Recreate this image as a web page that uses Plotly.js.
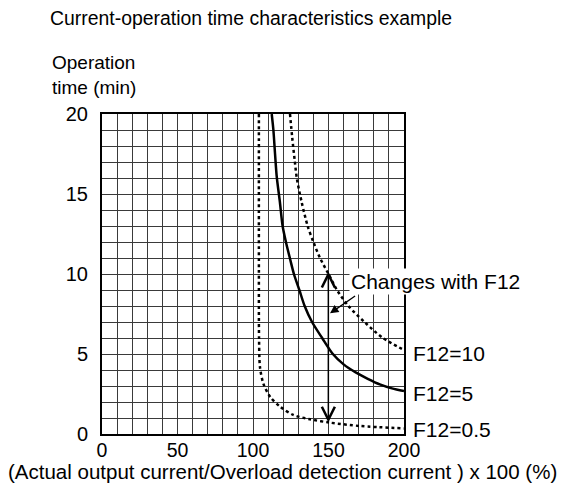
<!DOCTYPE html>
<html><head><meta charset="utf-8">
<script src="https://cdn.plot.ly/plotly-3.0.1.min.js"></script>
<style>html,body{margin:0;padding:0;background:#fff}</style>
</head><body>
<div id="chart" style="width:568px;height:487px"></div>
<script>
// Curve data (x: current %, y: operation time min)
const f10X = [124.5, 126, 127.5, 129, 132.2, 136.2, 140, 144.4, 150, 155.6, 163.2, 173.8, 186, 200];
const f10Y = [20, 18.5, 17.2, 16.0, 14.5, 13, 12, 11, 10, 9, 8, 7, 6, 5.25];
const f5X = [112.4, 113.5, 114.6, 115.7, 117.8, 119.6, 121.8, 124.4, 127.1, 130.7, 134.2, 139.1, 145.8, 152.9, 160, 168, 176, 184, 192, 200];
const f5Y = [20, 19, 17.5, 16.1, 14.5, 13, 12, 11, 10, 9, 8, 7, 6, 5, 4.35, 3.85, 3.45, 3.1, 2.85, 2.68];
const f05X = [103.9, 103.9, 104.0, 104.6, 106.8, 111.3, 117.9, 126.7, 137.7, 151, 170.9, 200];
const f05Y = [20, 10.25, 6.0, 4.2, 3.17, 2.33, 1.71, 1.19, 0.92, 0.71, 0.5, 0.35];
const curveLabels = ['F12=10', 'F12=5', 'F12=0.5'];
const labelY = [5.04, 2.54, 0.29];
const xTickVals = [0, 50, 100, 150, 200];
const yTickVals = [0, 5, 10, 15, 20];
// Double arrow at 150 % and pointer arrow from the note
const dblArrowX = [149.9, 149.9];
const dblArrowY = [0.62, 10.15];
const noteArrowX = [168.6, 151];
const noteArrowY = [8.69, 7.54];

const grid = '#3a3a3a';
const traces = [
  {x: f10X, y: f10Y, mode: 'lines', line: {color: '#000', width: 2.5, dash: 'dot', shape: 'spline', smoothing: 0.8}, hoverinfo: 'skip'},
  {x: f5X, y: f5Y, mode: 'lines', line: {color: '#000', width: 2.5, shape: 'spline', smoothing: 0.8}, hoverinfo: 'skip'},
  {x: f05X, y: f05Y, mode: 'lines', line: {color: '#000', width: 2.5, dash: 'dot', shape: 'spline', smoothing: 0.8}, hoverinfo: 'skip'}
];
const font = {family: 'Liberation Sans, Arial, sans-serif', color: '#000'};
const annotations = [
  {xref: 'paper', yref: 'paper', x: -0.172, y: 1.2, xanchor: 'left', yanchor: 'top', align: 'left',
   text: 'Operation<br>time (min)', showarrow: false, font: {...font, size: 19}},
  {xref: 'paper', yref: 'paper', x: 0.599, y: -0.117, xanchor: 'center', yanchor: 'middle',
   text: '(Actual output current/Overload detection current ) x 100 (%)', showarrow: false, font: {...font, size: 20.5}},
  {xref: 'x', yref: 'y', axref: 'x', ayref: 'y', x: dblArrowX[1], y: dblArrowY[1], ax: dblArrowX[0], ay: dblArrowY[0],
   text: '', showarrow: true, arrowhead: 5, startarrowhead: 5, arrowside: 'end+start', arrowsize: 1.7, startarrowsize: 1.7, arrowwidth: 1.5, arrowcolor: '#000'},
  {xref: 'x', yref: 'y', axref: 'x', ayref: 'y', x: noteArrowX[1], y: noteArrowY[1], ax: noteArrowX[0], ay: noteArrowY[0],
   text: '', showarrow: true, arrowhead: 2, arrowsize: 1.3, arrowwidth: 1.3, arrowcolor: '#000'},
  {xref: 'x', yref: 'y', x: 163.8, y: 9.56, xanchor: 'left', yanchor: 'middle', text: 'Changes with F12', showarrow: false,
   bgcolor: '#fff', borderpad: 1, font: {...font, size: 21}}
];
curveLabels.forEach((t, i) => annotations.push({xref: 'paper', yref: 'y', x: 1.022, y: labelY[i], xanchor: 'left', yanchor: 'middle',
  text: t, showarrow: false, font: {...font, size: 21}}));

const layout = {
  width: 568, height: 487,
  margin: {l: 102, r: 164, t: 114, b: 53},
  paper_bgcolor: '#fff', plot_bgcolor: '#fff',
  showlegend: false,
  font: font,
  title: {text: 'Current-operation time characteristics example', font: {...font, size: 19.4}, x: 0.442, xanchor: 'center', y: 0.963, yanchor: 'middle'},
  xaxis: {range: [0, 200], tickvals: xTickVals, ticks: '', showgrid: true, gridcolor: grid, gridwidth: 1,
    minor: {dtick: 10, showgrid: true, gridcolor: grid, gridwidth: 1},
    showline: true, linecolor: '#000', linewidth: 2, mirror: true, zeroline: false,
    tickfont: {...font, size: 19.5}, ticklabelstandoff: -2},
  yaxis: {range: [0, 20], tickvals: yTickVals, ticks: '', showgrid: true, gridcolor: grid, gridwidth: 1,
    minor: {dtick: 1, showgrid: true, gridcolor: grid, gridwidth: 1},
    showline: true, linecolor: '#000', linewidth: 2, mirror: true, zeroline: false,
    tickfont: {...font, size: 20}, ticklabelstandoff: 8},
  annotations: annotations
};
Plotly.newPlot('chart', traces, layout, {staticPlot: true, displayModeBar: false});
</script>
</body></html>
